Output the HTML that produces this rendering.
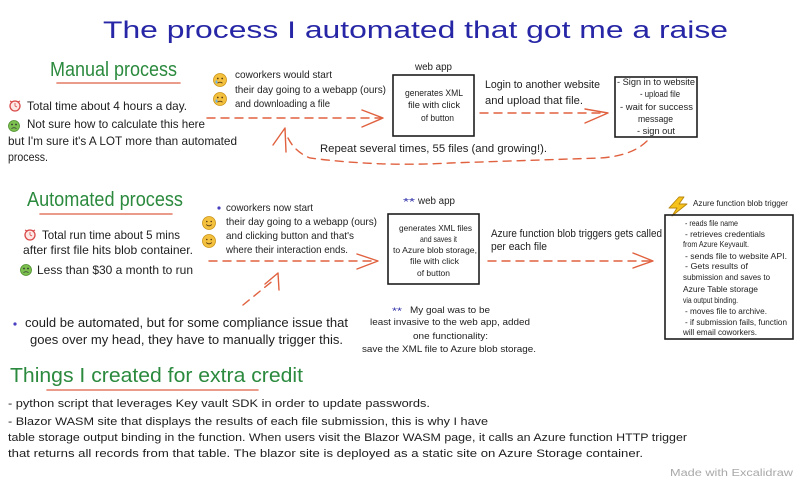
<!DOCTYPE html>
<html>
<head>
<meta charset="utf-8">
<style>
  html,body{margin:0;padding:0;background:#fff;}
  svg{display:block;}
  text{font-family:"Liberation Sans",sans-serif;fill:#1e1e1e;}
  .g{fill:#2b8a3e;}
  .b{fill:#2626a6;}
  .dash{fill:none;stroke:#e0613f;stroke-width:1.4;stroke-dasharray:8 6;stroke-linecap:round;}
  .head{fill:none;stroke:#e0613f;stroke-width:1.4;stroke-linecap:round;stroke-linejoin:round;}
  .ul{stroke:#e37a62;stroke-width:1.6;stroke-linecap:round;}
  .box{fill:none;stroke:#1e1e1e;stroke-width:1.6;}
</style>
</head>
<body>
<svg width="800" height="482" viewBox="0 0 800 482" xmlns="http://www.w3.org/2000/svg">
<rect width="800" height="482" fill="#fff"/>

<!-- Title -->
<text class="b" x="103" y="38" font-size="24" textLength="625" lengthAdjust="spacingAndGlyphs">The process I automated that got me a raise</text>

<!-- ============ Manual process ============ -->
<text class="g" x="50" y="76" font-size="20" textLength="127" lengthAdjust="spacingAndGlyphs">Manual process</text>
<line class="ul" x1="57" y1="83" x2="180" y2="83"/>

<!-- alarm -->
<g transform="translate(15,106)">
  <circle r="5" fill="#fde8e6" stroke="#d94848" stroke-width="1.3"/>
  <line x1="0" y1="0" x2="0" y2="-3" stroke="#d94848" stroke-width="0.8"/>
  <line x1="0" y1="0" x2="2" y2="1" stroke="#d94848" stroke-width="0.8"/>
  <line x1="-5" y1="-5" x2="-3" y2="-4" stroke="#d94848" stroke-width="1"/>
  <line x1="5" y1="-5" x2="3" y2="-4" stroke="#d94848" stroke-width="1"/>
</g>
<text x="27" y="110" font-size="12" textLength="160" lengthAdjust="spacingAndGlyphs">Total time about 4 hours a day.</text>
<!-- nauseated -->
<g transform="translate(14,126)">
  <circle r="5.5" fill="#7cc04f" stroke="#4d8f2c" stroke-width="0.8"/>
  <circle cx="-2" cy="-1.5" r="0.9" fill="#333"/>
  <circle cx="2" cy="-1.5" r="0.9" fill="#333"/>
  <path d="M-2.5 2.5 Q0 1 2.5 2.5" stroke="#333" stroke-width="0.8" fill="none"/>
</g>
<text x="27" y="128" font-size="12" textLength="178" lengthAdjust="spacingAndGlyphs">Not sure how to calculate this here</text>
<text x="8" y="145" font-size="12" textLength="229" lengthAdjust="spacingAndGlyphs">but I'm sure it's A LOT more than automated</text>
<text x="8" y="161" font-size="12" textLength="40" lengthAdjust="spacingAndGlyphs">process.</text>

<!-- sad faces -->
<g transform="translate(220,80)">
  <circle r="6.5" fill="#f4c13e" stroke="#c99418" stroke-width="0.8"/>
  <circle cx="-2.2" cy="-1.5" r="0.9" fill="#5a3a10"/>
  <circle cx="2.2" cy="-1.5" r="0.9" fill="#5a3a10"/>
  <path d="M-2.5 3.2 Q0 1.2 2.5 3.2" stroke="#5a3a10" stroke-width="0.9" fill="none"/>
  <ellipse cx="-3.5" cy="2" rx="1" ry="1.6" fill="#6bb2e8"/>
</g>
<g transform="translate(220,99)">
  <circle r="6.5" fill="#f4c13e" stroke="#c99418" stroke-width="0.8"/>
  <circle cx="-2.2" cy="-1.5" r="0.9" fill="#5a3a10"/>
  <circle cx="2.2" cy="-1.5" r="0.9" fill="#5a3a10"/>
  <path d="M-2.5 3.2 Q0 1.2 2.5 3.2" stroke="#5a3a10" stroke-width="0.9" fill="none"/>
  <ellipse cx="-3.5" cy="2" rx="1" ry="1.6" fill="#6bb2e8"/>
</g>
<text x="235" y="78" font-size="10.5" textLength="97" lengthAdjust="spacingAndGlyphs">coworkers would start</text>
<text x="235" y="93" font-size="10.5" textLength="151" lengthAdjust="spacingAndGlyphs">their day going to a webapp (ours)</text>
<text x="235" y="107" font-size="10.5" textLength="95" lengthAdjust="spacingAndGlyphs">and downloading a file</text>

<!-- arrow 1 -->
<line class="dash" x1="207" y1="118" x2="381" y2="118"/>
<polyline class="head" points="362,110 383,118 362,127"/>

<!-- web app box 1 -->
<text x="415" y="70" font-size="10" textLength="37" lengthAdjust="spacingAndGlyphs">web app</text>
<rect class="box" x="393" y="75" width="81" height="61"/>
<text x="405" y="96" font-size="9" textLength="58" lengthAdjust="spacingAndGlyphs">generates XML</text>
<text x="408" y="108" font-size="9" textLength="52" lengthAdjust="spacingAndGlyphs">file with click</text>
<text x="421" y="121" font-size="9" textLength="33" lengthAdjust="spacingAndGlyphs">of button</text>

<text x="485" y="88" font-size="11" textLength="115" lengthAdjust="spacingAndGlyphs">Login to another website</text>
<text x="485" y="104" font-size="11" textLength="98" lengthAdjust="spacingAndGlyphs">and upload that file.</text>

<!-- arrow 2 -->
<line class="dash" x1="480" y1="113" x2="606" y2="113"/>
<polyline class="head" points="585,109 608,113 585,123"/>

<!-- box 2 -->
<rect class="box" x="615" y="77" width="82" height="60"/>
<text x="617" y="85" font-size="9" textLength="78" lengthAdjust="spacingAndGlyphs">- Sign in to website</text>
<text x="640" y="97" font-size="9" textLength="40" lengthAdjust="spacingAndGlyphs">- upload file</text>
<text x="620" y="110" font-size="9" textLength="73" lengthAdjust="spacingAndGlyphs">- wait for success</text>
<text x="638" y="122" font-size="9" textLength="35" lengthAdjust="spacingAndGlyphs">message</text>
<text x="637" y="134" font-size="9" textLength="38" lengthAdjust="spacingAndGlyphs">- sign out</text>

<!-- loop arrow -->
<path class="dash" d="M647,141 Q632,156 600,158 L450,163 Q380,167 310,158 Q295,152 288,138"/>
<polyline class="head" points="273,145 285,128 286,152"/>

<text x="320" y="152" font-size="11" textLength="227" lengthAdjust="spacingAndGlyphs">Repeat several times, 55 files (and growing!).</text>

<!-- ============ Automated process ============ -->
<text class="g" x="27" y="206" font-size="20" textLength="156" lengthAdjust="spacingAndGlyphs">Automated process</text>
<line class="ul" x1="40" y1="214" x2="172" y2="214"/>

<g transform="translate(30,235)">
  <circle r="5" fill="#fde8e6" stroke="#d94848" stroke-width="1.3"/>
  <line x1="0" y1="0" x2="0" y2="-3" stroke="#d94848" stroke-width="0.8"/>
  <line x1="0" y1="0" x2="2" y2="1" stroke="#d94848" stroke-width="0.8"/>
  <line x1="-5" y1="-5" x2="-3" y2="-4" stroke="#d94848" stroke-width="1"/>
  <line x1="5" y1="-5" x2="3" y2="-4" stroke="#d94848" stroke-width="1"/>
</g>
<text x="42" y="239" font-size="12" textLength="138" lengthAdjust="spacingAndGlyphs">Total run time about 5 mins</text>
<text x="23" y="254" font-size="12" textLength="170" lengthAdjust="spacingAndGlyphs">after first file hits blob container.</text>
<g transform="translate(26,270)">
  <circle r="5.5" fill="#7cc04f" stroke="#4d8f2c" stroke-width="0.8"/>
  <circle cx="-2" cy="-1.5" r="0.9" fill="#333"/>
  <circle cx="2" cy="-1.5" r="0.9" fill="#333"/>
  <path d="M-2.5 2.5 Q0 1 2.5 2.5" stroke="#333" stroke-width="0.8" fill="none"/>
</g>
<text x="37" y="274" font-size="12" textLength="156" lengthAdjust="spacingAndGlyphs">Less than $30 a month to run</text>

<circle cx="219" cy="208" r="1.6" fill="#4a3fc0"/>
<text x="226" y="211" font-size="10.5" textLength="87" lengthAdjust="spacingAndGlyphs">coworkers now start</text>
<g transform="translate(209,223)">
  <circle r="6.5" fill="#f4c13e" stroke="#c99418" stroke-width="0.8"/>
  <circle cx="-2.2" cy="-1.5" r="0.8" fill="#5a3a10"/>
  <circle cx="2.2" cy="-1.5" r="0.8" fill="#5a3a10"/>
  <path d="M-2.8 1.6 Q0 4.2 2.8 1.6" stroke="#5a3a10" stroke-width="0.9" fill="none"/>
</g>
<g transform="translate(209,241)">
  <circle r="6.5" fill="#f4c13e" stroke="#c99418" stroke-width="0.8"/>
  <circle cx="-2.2" cy="-1.5" r="0.8" fill="#5a3a10"/>
  <circle cx="2.2" cy="-1.5" r="0.8" fill="#5a3a10"/>
  <path d="M-2.8 1.6 Q0 4.2 2.8 1.6" stroke="#5a3a10" stroke-width="0.9" fill="none"/>
</g>
<text x="226" y="225" font-size="10.5" textLength="151" lengthAdjust="spacingAndGlyphs">their day going to a webapp (ours)</text>
<text x="226" y="239" font-size="10.5" textLength="128" lengthAdjust="spacingAndGlyphs">and clicking button and that's</text>
<text x="226" y="253" font-size="10.5" textLength="122" lengthAdjust="spacingAndGlyphs">where their interaction ends.</text>

<!-- arrow 3 -->
<line class="dash" x1="209" y1="261" x2="376" y2="261"/>
<polyline class="head" points="357,254 378,261 357,269"/>

<!-- small up arrow -->
<line class="dash" x1="243" y1="305" x2="275" y2="279"/>
<polyline class="head" points="265,284 278,273 279,290"/>

<circle cx="15" cy="324" r="1.6" fill="#4a3fc0"/>
<text x="25" y="327" font-size="12.5" textLength="323" lengthAdjust="spacingAndGlyphs">could be automated, but for some compliance issue that</text>
<text x="30" y="344" font-size="12.5" textLength="313" lengthAdjust="spacingAndGlyphs">goes over my head, they have to manually trigger this.</text>

<!-- web app box 3 -->
<text class="b" x="403" y="205" font-size="10" textLength="12" lengthAdjust="spacingAndGlyphs">**</text>
<text x="418" y="204" font-size="10" textLength="37" lengthAdjust="spacingAndGlyphs">web app</text>
<rect class="box" x="388" y="214" width="91" height="70"/>
<text x="399" y="231" font-size="8.5" textLength="73" lengthAdjust="spacingAndGlyphs">generates XML files</text>
<text x="420" y="242" font-size="8.5" textLength="37" lengthAdjust="spacingAndGlyphs">and saves it</text>
<text x="393" y="253" font-size="8.5" textLength="84" lengthAdjust="spacingAndGlyphs">to Azure blob storage,</text>
<text x="410" y="264" font-size="8.5" textLength="49" lengthAdjust="spacingAndGlyphs">file with click</text>
<text x="417" y="276" font-size="8.5" textLength="33" lengthAdjust="spacingAndGlyphs">of button</text>

<text x="491" y="237" font-size="11" textLength="171" lengthAdjust="spacingAndGlyphs">Azure function blob triggers gets called</text>
<text x="491" y="250" font-size="11" textLength="56" lengthAdjust="spacingAndGlyphs">per each file</text>

<!-- arrow 4 -->
<line class="dash" x1="488" y1="261" x2="651" y2="261"/>
<polyline class="head" points="633,253 653,261 633,268"/>

<!-- lightning -->
<polygon points="679,197 669,208 677,208 672,216 687,204 679,204 684,197" fill="#f6c21c" stroke="#b8860b" stroke-width="0.9" stroke-linejoin="round"/>
<text x="693" y="206" font-size="8" textLength="95" lengthAdjust="spacingAndGlyphs">Azure function blob trigger</text>

<!-- box 4 -->
<rect class="box" x="665" y="215" width="128" height="124"/>
<text x="685" y="226" font-size="8" textLength="53" lengthAdjust="spacingAndGlyphs">- reads file name</text>
<text x="685" y="237" font-size="8" textLength="80" lengthAdjust="spacingAndGlyphs">- retrieves credentials</text>
<text x="683" y="247" font-size="8" textLength="66" lengthAdjust="spacingAndGlyphs">from Azure Keyvault.</text>
<text x="685" y="259" font-size="8" textLength="102" lengthAdjust="spacingAndGlyphs">- sends file to website API.</text>
<text x="685" y="269" font-size="8" textLength="63" lengthAdjust="spacingAndGlyphs">- Gets results of</text>
<text x="683" y="280" font-size="8" textLength="87" lengthAdjust="spacingAndGlyphs">submission and saves to</text>
<text x="683" y="292" font-size="8" textLength="75" lengthAdjust="spacingAndGlyphs">Azure Table storage</text>
<text x="683" y="303" font-size="8" textLength="55" lengthAdjust="spacingAndGlyphs">via output binding.</text>
<text x="685" y="314" font-size="8" textLength="82" lengthAdjust="spacingAndGlyphs">- moves file to archive.</text>
<text x="685" y="325" font-size="8" textLength="102" lengthAdjust="spacingAndGlyphs">- if submission fails, function</text>
<text x="683" y="335" font-size="8" textLength="74" lengthAdjust="spacingAndGlyphs">will email coworkers.</text>

<!-- goal note -->
<text class="b" x="392" y="314" font-size="9.5" textLength="10" lengthAdjust="spacingAndGlyphs">**</text>
<text x="410" y="313" font-size="9.5" textLength="80" lengthAdjust="spacingAndGlyphs">My goal was to be</text>
<text x="370" y="325" font-size="9.5" textLength="160" lengthAdjust="spacingAndGlyphs">least invasive to the web app, added</text>
<text x="413" y="339" font-size="9.5" textLength="75" lengthAdjust="spacingAndGlyphs">one functionality:</text>
<text x="362" y="352" font-size="9.5" textLength="174" lengthAdjust="spacingAndGlyphs">save the XML file to Azure blob storage.</text>

<!-- ============ Extra credit ============ -->
<text class="g" x="10" y="382" font-size="20" textLength="293" lengthAdjust="spacingAndGlyphs">Things I created for extra credit</text>
<line class="ul" x1="47" y1="390" x2="258" y2="390"/>
<text x="8" y="407" font-size="11" textLength="422" lengthAdjust="spacingAndGlyphs">- python script that leverages Key vault SDK in order to update passwords.</text>
<text x="8" y="425" font-size="11" textLength="480" lengthAdjust="spacingAndGlyphs">- Blazor WASM site that displays the results of each file submission, this is why I have</text>
<text x="8" y="441" font-size="11" textLength="679" lengthAdjust="spacingAndGlyphs">table storage output binding in the function. When users visit the Blazor WASM page, it calls an Azure function HTTP trigger</text>
<text x="8" y="457" font-size="11" textLength="635" lengthAdjust="spacingAndGlyphs">that returns all records from that table. The blazor site is deployed as a static site on Azure Storage container.</text>

<text x="670" y="476" font-size="10" fill="#a8a8a8" style="fill:#a8a8a8" textLength="123" lengthAdjust="spacingAndGlyphs">Made with Excalidraw</text>
</svg>
</body>
</html>
